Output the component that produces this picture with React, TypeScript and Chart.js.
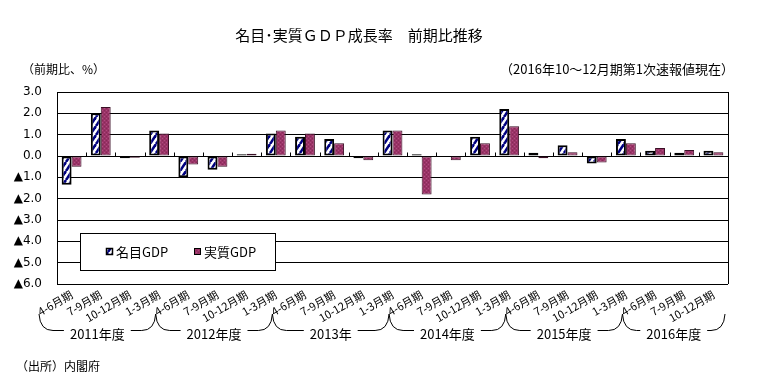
import React, { useEffect, useRef } from 'react';
import { Chart, registerables } from 'chart.js';

Chart.register(...registerables);

const categories = [
  '4-6月期', '7-9月期', '10-12月期', '1-3月期',
  '4-6月期', '7-9月期', '10-12月期', '1-3月期',
  '4-6月期', '7-9月期', '10-12月期', '1-3月期',
  '4-6月期', '7-9月期', '10-12月期', '1-3月期',
  '4-6月期', '7-9月期', '10-12月期', '1-3月期',
  '4-6月期', '7-9月期', '10-12月期',
];
const yearLabels = ['2011年度', '2012年度', '2013年', '2014年度', '2015年度', '2016年度'];
const yearSizes = [4, 4, 4, 4, 4, 3];
const nominalGdp = [-1.35, 2.0, -0.1, 1.2, -1.0, -0.65, 0.08, 1.05, 0.9, 0.8, -0.1, 1.2, 0.08, 0.0, 0.9, 2.2, 0.15, 0.5, -0.35, 0.8, 0.25, 0.15, 0.25];
const realGdp = [-0.5, 2.3, -0.08, 1.05, -0.4, -0.5, 0.1, 1.2, 1.05, 0.6, -0.2, 1.2, -1.8, -0.2, 0.6, 1.4, -0.1, 0.18, -0.3, 0.6, 0.38, 0.28, 0.17];
const seriesNames = ['名目GDP', '実質GDP'];
const yMin = -6;
const yMax = 3;

const titleText = '名目･実質ＧＤＰ成長率　前期比推移';
const unitText = '（前期比、%）';
const asOfText = '（2016年10～12月期第1次速報値現在）';
const sourceText = '（出所）内閣府';

const JP = '"Noto Sans CJK JP", "Noto Sans", sans-serif';

function makeStripePattern(): CanvasPattern | string {
  const c = document.createElement('canvas');
  const w = 6, h = 9;
  c.width = w; c.height = h;
  const g = c.getContext('2d');
  if (!g) return '#ffffff';
  g.fillStyle = '#ffffff';
  g.fillRect(0, 0, w, h);
  g.strokeStyle = '#000080';
  g.lineWidth = 2.6;
  for (const dx of [-w, 0, w]) {
    g.beginPath();
    g.moveTo(dx, h);
    g.lineTo(dx + w, 0);
    g.stroke();
  }
  return g.createPattern(c, 'repeat') || '#ffffff';
}

function makeDotPattern(): CanvasPattern | string {
  const c = document.createElement('canvas');
  c.width = 4; c.height = 4;
  const g = c.getContext('2d');
  if (!g) return '#993366';
  g.fillStyle = '#993366';
  g.fillRect(0, 0, 4, 4);
  g.fillStyle = '#b04a80';
  g.fillRect(0, 0, 1, 1);
  g.fillRect(2, 2, 1, 1);
  g.fillStyle = '#862a58';
  g.fillRect(2, 0, 1, 1);
  g.fillRect(0, 2, 1, 1);
  return g.createPattern(c, 'repeat') || '#993366';
}

export default function App() {
  const ref = useRef<HTMLCanvasElement | null>(null);

  useEffect(() => {
    document.body.style.margin = '0';
    const canvas = ref.current;
    if (!canvas) return;
    const stripe = makeStripePattern();
    const dots = makeDotPattern();

    const decor = {
      id: 'decor',
      afterDraw(chart: any) {
        const ctx = chart.ctx as CanvasRenderingContext2D;
        const area = chart.chartArea;
        const ys = chart.scales.y;
        ctx.save();
        // right border
        ctx.strokeStyle = '#000';
        ctx.lineWidth = 1;
        ctx.beginPath();
        ctx.moveTo(Math.round(area.right) + 0.5, area.top);
        ctx.lineTo(Math.round(area.right) + 0.5, area.bottom);
        ctx.stroke();

        // small tick marks on the zero line
        const y0 = Math.round(ys.getPixelForValue(0)) + 0.5;
        const n = categories.length;
        const catW = (area.right - area.left) / n;
        ctx.beginPath();
        for (let i = 1; i < n; i++) {
          const x = Math.round(area.left + i * catW) + 0.5;
          ctx.moveTo(x, y0);
          ctx.lineTo(x, y0 - 4);
        }
        ctx.stroke();

        // legend box
        const lx = 80, ly = 233, lw = 195, lh = 37;
        ctx.fillStyle = '#ffffff';
        ctx.fillRect(lx, ly, lw, lh);
        ctx.strokeStyle = '#000';
        ctx.strokeRect(lx + 0.5, ly + 0.5, lw, lh);
        const fills = [stripe, dots];
        const sx = [106, 194];
        ctx.font = `13px ${JP}`;
        ctx.textBaseline = 'middle';
        ctx.textAlign = 'left';
        for (let k = 0; k < 2; k++) {
          ctx.fillStyle = fills[k] as any;
          ctx.fillRect(sx[k], 248, 7, 7);
          ctx.strokeStyle = '#000';
          ctx.lineWidth = k === 0 ? 1.5 : 1;
          ctx.strokeRect(sx[k] + 0.5, 248.5, 6, 6);
          ctx.fillStyle = '#000';
          ctx.fillText(chart.data.datasets[k].label, sx[k] + 10, 252);
        }

        // year braces
        ctx.lineWidth = 1;
        ctx.strokeStyle = '#000';
        ctx.font = `13px ${JP}`;
        ctx.textAlign = 'center';
        ctx.textBaseline = 'middle';
        const lineY = 330.5, tipY = 314;
        let start = 0;
        for (let gi = 0; gi < yearLabels.length; gi++) {
          const end = start + yearSizes[gi];
          const L = area.left + start * catW - 18;
          const R = area.left + end * catW - (gi === yearLabels.length - 1 ? 3 : 18);
          const C = (L + R) / 2;
          const tw = ctx.measureText(yearLabels[gi]).width;
          ctx.beginPath();
          ctx.moveTo(L, tipY);
          ctx.quadraticCurveTo(L + 1, lineY, L + 14, lineY);
          ctx.lineTo(C - tw / 2 - 6, lineY);
          ctx.moveTo(C + tw / 2 + 6, lineY);
          ctx.lineTo(R - 14, lineY);
          ctx.quadraticCurveTo(R - 1, lineY, R, tipY);
          ctx.stroke();
          ctx.fillStyle = '#000';
          ctx.fillText(yearLabels[gi], C, 334);
          start = end;
        }

        // title & notes
        ctx.fillStyle = '#000';
        ctx.font = `15px ${JP}`;
        ctx.textAlign = 'center';
        ctx.fillText(titleText, 359, 35);
        ctx.font = `12px ${JP}`;
        ctx.textAlign = 'left';
        ctx.fillText(unitText, 22, 69);
        ctx.font = `13px ${JP}`;
        ctx.textAlign = 'right';
        ctx.fillText(asOfText, 734, 69);
        ctx.font = `12px ${JP}`;
        ctx.textAlign = 'left';
        ctx.fillText(sourceText, 16, 366);
        ctx.restore();
      },
    };

    const chart = new Chart(canvas, {
      type: 'bar',
      data: {
        labels: categories,
        datasets: [
          {
            label: seriesNames[0],
            data: nominalGdp,
            backgroundColor: stripe as any,
            borderColor: '#000000',
            borderWidth: 2,
            borderSkipped: false,
            categoryPercentage: 0.68,
            barPercentage: 1.0,
          },
          {
            label: seriesNames[1],
            data: realGdp,
            backgroundColor: dots as any,
            borderColor: '#3a0f25',
            borderWidth: 1,
            borderSkipped: false,
            categoryPercentage: 0.68,
            barPercentage: 1.0,
          },
        ],
      },
      options: {
        responsive: false,
        animation: false,
        layout: { padding: { top: 92, right: 30, left: 0, bottom: 0 } },
        plugins: {
          legend: { display: false },
          title: { display: false },
          tooltip: { enabled: false },
        },
        scales: {
          x: {
            grid: { display: false, drawTicks: false },
            border: { display: false },
            ticks: {
              autoSkip: false,
              minRotation: 30,
              maxRotation: 30,
              padding: 4,
              color: '#000',
              font: { family: JP, size: 11 },
            },
            afterFit: (s: any) => { s.height = 105; },
          },
          y: {
            min: yMin,
            max: yMax,
            grid: { color: '#000', lineWidth: 1, drawTicks: false },
            border: { display: true, color: '#000', width: 1 },
            ticks: {
              stepSize: 1,
              padding: 15,
              color: '#000',
              font: { family: '"DejaVu Sans", sans-serif', size: 12 },
              callback: (v: any) => {
                const n = Number(v);
                return n < 0 ? '▲' + Math.abs(n).toFixed(1) : n.toFixed(1);
              },
            },
            afterFit: (s: any) => { s.width = 57; },
          },
        },
      },
      plugins: [decor],
    });
    return () => chart.destroy();
  }, []);

  return (
    <div style={{ width: 758, height: 389, background: '#fff' }}>
      <canvas ref={ref} width={758} height={389} style={{ display: 'block' }} />
    </div>
  );
}
